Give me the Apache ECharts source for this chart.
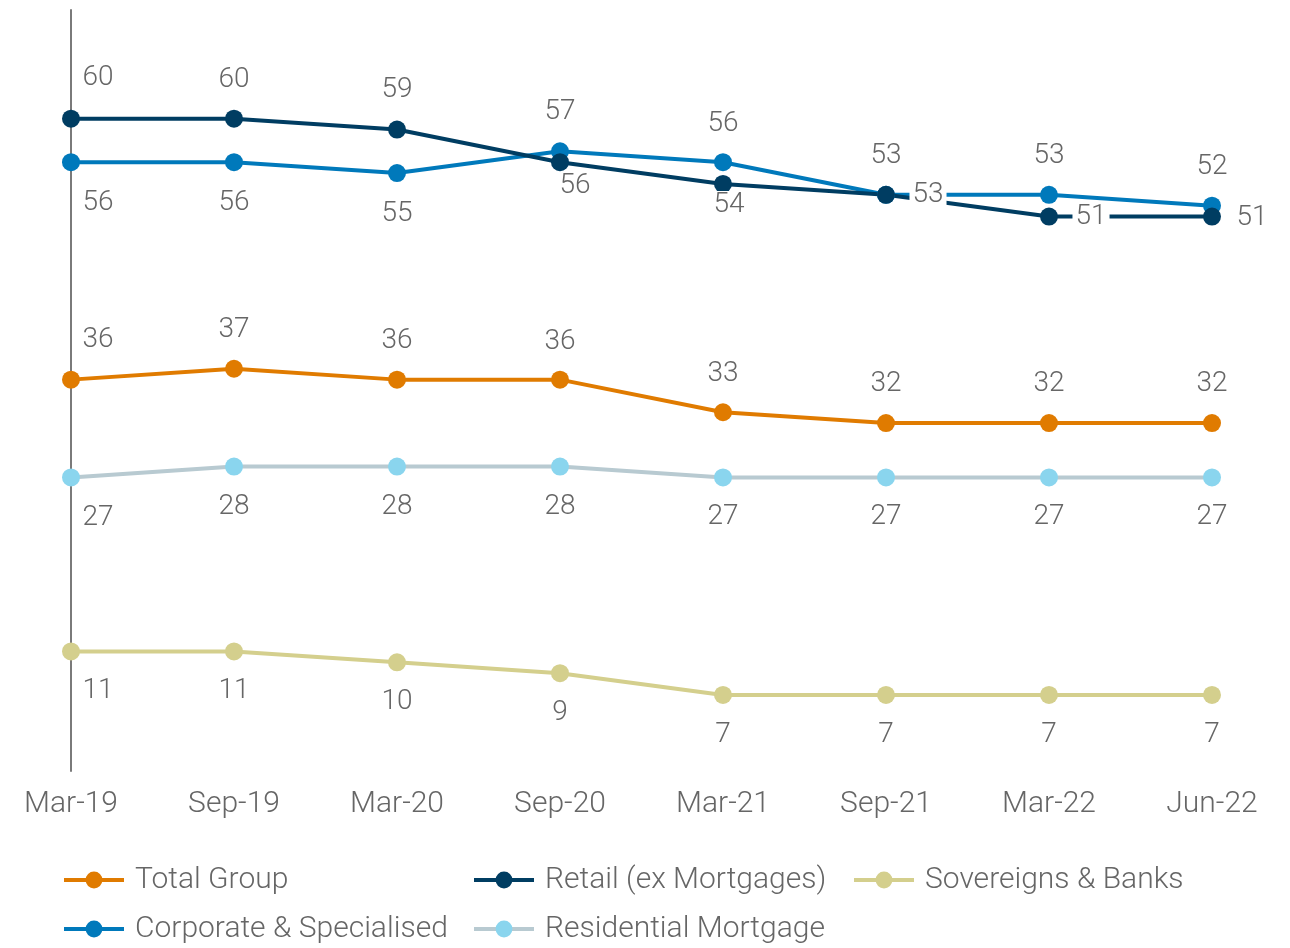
<!DOCTYPE html>
<html>
<head>
<meta charset="utf-8">
<title>Exposure by portfolio</title>
<script src="https://cdn.jsdelivr.net/npm/echarts@6/dist/echarts.min.js"></script>
<style>
  html, body { margin: 0; padding: 0; background: #ffffff; }
  #chart { width: 1290px; height: 948px; }
</style>
</head>
<body>
<div id="chart"></div>
<script>
// Reporting periods
const periods = ['Mar-19', 'Sep-19', 'Mar-20', 'Sep-20', 'Mar-21', 'Sep-21', 'Mar-22', 'Jun-22'];

// Series values
const totalGroup   = [36, 37, 36, 36, 33, 32, 32, 32];
const retail       = [60, 60, 59, 56, 54, 53, 51, 51];
const sovereigns   = [11, 11, 10, 9, 7, 7, 7, 7];
const corporate    = [56, 56, 55, 57, 56, 53, 53, 52];
const residential  = [27, 28, 28, 28, 27, 27, 27, 27];

// Label placement per point (offset from the marker centre, px)
const labelOffsets = {
  'Total Group':              [[27,-40],[0,-39],[0,-39],[0,-38],[0,-38],[0,-39],[0,-39],[0,-39]],
  'Retail (ex Mortgages)':    [[27,-41],[0,-39],[0,-40],[15,24],[6,21],[42,0],[42,0],[40,1]],
  'Sovereigns & Banks':       [[27,40],[0,40],[0,40],[0,40],[0,40],[0,40],[0,40],[0,40]],
  'Corporate & Specialised':  [[27,41],[0,41],[0,41],[0,-39],[0,-38],[0,-39],[0,-39],[0,-39]],
  'Residential Mortgage':     [[27,41],[0,40],[0,40],[0,40],[0,40],[0,40],[0,40],[0,40]]
};

const FONT = 'Roboto, "DejaVu Sans Condensed", sans-serif';
const WEIGHT = 300;
const TEXT = '#666666';

function makeSeries(name, values, lineColor, markerColor) {
  const offs = labelOffsets[name];
  return {
    name: name,
    type: 'line',
    data: values.map((v, i) => ({
      value: v,
      label: { offset: offs[i] }
    })),
    symbol: 'circle',
    symbolSize: 18,
    lineStyle: { color: lineColor, width: 4 },
    itemStyle: { color: markerColor },
    label: {
      show: true,
      position: 'inside',
      fontFamily: FONT,
      fontWeight: WEIGHT,
      fontSize: 28,
      color: TEXT,
      backgroundColor: '#ffffff',
      padding: [0, 3]
    },
    emphasis: { disabled: true },
    animation: false
  };
}

const legendTop = [865, 914];
const legendSpec = [
  { name: 'Total Group',             left: 62,  top: legendTop[0] },
  { name: 'Retail (ex Mortgages)',   left: 472, top: legendTop[0] },
  { name: 'Sovereigns & Banks',      left: 852, top: legendTop[0] },
  { name: 'Corporate & Specialised', left: 62,  top: legendTop[1] },
  { name: 'Residential Mortgage',    left: 472, top: legendTop[1] }
];

const chart = echarts.init(document.getElementById('chart'), null, { renderer: 'canvas' });

chart.setOption({
  backgroundColor: '#ffffff',
  animation: false,
  grid: { left: 71, right: 78, top: 10, bottom: 177, containLabel: false },
  xAxis: {
    type: 'category',
    data: periods,
    boundaryGap: false,
    axisLine: { show: false },
    axisTick: { show: false },
    axisLabel: { fontFamily: FONT, fontWeight: WEIGHT, fontSize: 30, color: TEXT, margin: 18 },
    splitLine: { show: false }
  },
  yAxis: {
    type: 'value',
    min: 0,
    max: 70,
    interval: 10,
    axisLine: { show: true, lineStyle: { color: '#7a7a7a', width: 2 } },
    axisTick: { show: false },
    axisLabel: { show: false },
    splitLine: { show: false }
  },
  legend: legendSpec.map(l => ({
    data: [l.name],
    left: l.left,
    top: l.top,
    itemWidth: 60,
    itemHeight: 21,
    itemGap: 0,
    padding: 0,
    selectedMode: false,
    lineStyle: { width: 4 },
    textStyle: { fontFamily: FONT, fontWeight: WEIGHT, fontSize: 30, color: TEXT, padding: [0, 0, 0, 6] }
  })),
  series: [
    makeSeries('Total Group', totalGroup, '#e07b00', '#e07b00'),
    makeSeries('Sovereigns & Banks', sovereigns, '#d4cf8d', '#d4cf8d'),
    makeSeries('Residential Mortgage', residential, '#b8cad1', '#8ad5ee'),
    makeSeries('Corporate & Specialised', corporate, '#0079bb', '#0079bb'),
    makeSeries('Retail (ex Mortgages)', retail, '#003d62', '#003d62')
  ]
});
</script>
</body>
</html>
